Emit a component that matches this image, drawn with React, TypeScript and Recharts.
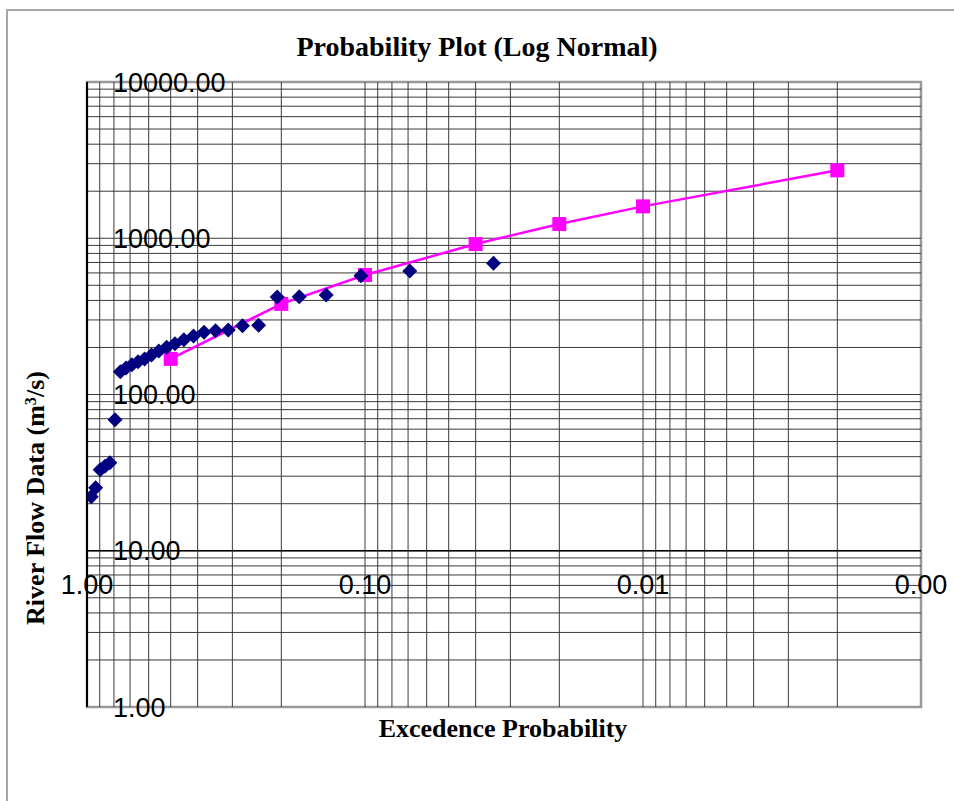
import {
  ReferenceArea,
  ReferenceDot,
  ReferenceLine,
  Scatter,
  ScatterChart,
  XAxis,
  YAxis,
} from 'recharts'

// ranked observations: exceedance probability (m / (n + 1)) and river flow
const obsProb = [
  0.0345, 0.069, 0.1034, 0.1379, 0.1724, 0.2069, 0.2414, 0.2759, 0.3103, 0.3448,
  0.3793, 0.4138, 0.4483, 0.4828, 0.5172, 0.5517, 0.5862, 0.6207, 0.6552, 0.6897,
  0.7241, 0.7586, 0.7931, 0.8276, 0.8621, 0.8966, 0.931, 0.9655,
]
const obsFlow = [
  692, 618, 575, 434, 423, 420, 277, 275, 259, 256,
  250, 237, 224, 211, 201, 190, 179, 169, 162, 155,
  148, 140, 69, 36.6, 34.7, 33, 25.3, 22.2,
]

// fitted log-normal quantiles
const fitProb = [0.5, 0.2, 0.1, 0.04, 0.02, 0.01, 0.002]
const fitFlow = [169, 380, 582, 918, 1233, 1600, 2720]

const xGridTicks = [
  0.002, 0.003, 0.004, 0.005, 0.006, 0.007, 0.008, 0.009,
  0.01, 0.02, 0.03, 0.04, 0.05, 0.06, 0.07, 0.08, 0.09,
  0.1, 0.2, 0.3, 0.4, 0.5, 0.6, 0.7, 0.8, 0.9,
]
const yGridTicks = [
  2, 3, 4, 5, 6, 7, 8, 9,
  10, 20, 30, 40, 50, 60, 70, 80, 90,
  100, 200, 300, 400, 500, 600, 700, 800, 900,
  1000, 2000, 3000, 4000, 5000, 6000, 7000, 8000, 9000,
]
const xLabelTicks = [1, 0.1, 0.01, 0.001]
const yLabelTicks = [1, 10, 100, 1000, 10000]

const observed = obsProb.map((p, i) => ({ p, q: obsFlow[i] }))
const fitted = fitProb.map((p, i) => ({ p, q: fitFlow[i] }))

const margin = { top: 82, right: 33, bottom: 94, left: 87 }
const sans = '"Liberation Sans", Arial, sans-serif'
const serif = '"Liberation Serif", "Times New Roman", serif'
const gridColor = '#3a3a3a'

const Diamond = ({ cx, cy }: any) => (
  <polygon
    points={`${cx},${cy - 7.5} ${cx + 7.5},${cy} ${cx},${cy + 7.5} ${cx - 7.5},${cy}`}
    fill="#000080"
  />
)

const Square = ({ cx, cy }: any) => (
  <rect x={cx - 7} y={cy - 7} width={14} height={14} fill="#FF00FF" />
)

const tickLabel = (value: number, position: 'bottom' | 'right', offset: number) => ({
  value: value.toFixed(2),
  position,
  offset,
  fill: '#000',
  fontSize: 27,
  fontFamily: sans,
})

export default function App() {
  return (
    <div style={{ position: 'absolute', left: 0, top: 0, width: 954, height: 801, background: '#fff' }}>
      <div
        style={{
          position: 'absolute',
          left: 6,
          top: 9,
          width: 960,
          height: 800,
          borderTop: '2px solid #a8a8a8',
          borderLeft: '2px solid #a8a8a8',
        }}
      />
      <ScatterChart width={954} height={801} margin={margin}>
        <XAxis
          dataKey="p"
          type="number"
          scale="log"
          domain={[0.001, 1]}
          reversed
          hide
          allowDataOverflow
        />
        <YAxis
          dataKey="q"
          type="number"
          scale="log"
          domain={[1, 10000]}
          hide
          allowDataOverflow
        />

        {/* log grid */}
        {xGridTicks.map((p) => (
          <ReferenceLine key={`x${p}`} x={p} stroke={gridColor} strokeWidth={1} />
        ))}
        {yGridTicks.map((v) => (
          <ReferenceLine key={`y${v}`} y={v} stroke={gridColor} strokeWidth={1} />
        ))}

        {/* plot frame, y axis at p = 1 and x axis crossing at 10 */}
        <ReferenceArea
          x1={0.001}
          x2={1}
          y1={1}
          y2={10000}
          fill="none"
          fillOpacity={0}
          stroke="#999"
          strokeWidth={2.5}
          ifOverflow="visible"
        />
        <ReferenceLine x={1} stroke="#000" strokeWidth={2} ifOverflow="visible" />
        <ReferenceLine y={10} stroke="#000" strokeWidth={1.5} ifOverflow="visible" />

        {xLabelTicks.map((p) => (
          <ReferenceDot
            key={`xl${p}`}
            x={p}
            y={10}
            r={0}
            stroke="none"
            fill="none"
            ifOverflow="visible"
            label={tickLabel(p, 'bottom', 24)}
          />
        ))}
        {yLabelTicks.map((v) => (
          <ReferenceDot
            key={`yl${v}`}
            x={1}
            y={v}
            r={0}
            stroke="none"
            fill="none"
            ifOverflow="visible"
            label={tickLabel(v, 'right', 26)}
          />
        ))}

        <Scatter
          data={fitted}
          shape={<Square />}
          line={{ stroke: '#FF00FF', strokeWidth: 2.5 }}
          lineType="joint"
          isAnimationActive={false}
        />
        <Scatter data={observed} shape={<Diamond />} isAnimationActive={false} />
      </ScatterChart>
      <div
        style={{
          position: 'absolute',
          left: 0,
          top: 33,
          width: 954,
          textAlign: 'center',
          fontFamily: serif,
          fontWeight: 'bold',
          fontSize: 28,
          lineHeight: '28px',
        }}
      >
        Probability Plot (Log Normal)
      </div>
      <div
        style={{
          position: 'absolute',
          left: 303,
          top: 716,
          width: 400,
          textAlign: 'center',
          fontFamily: serif,
          fontWeight: 'bold',
          fontSize: 26,
          lineHeight: '26px',
        }}
      >
        Excedence Probability
      </div>
      <div
        style={{
          position: 'absolute',
          left: 37,
          top: 498,
          transform: 'translate(-50%, -50%) rotate(-90deg)',
          whiteSpace: 'nowrap',
          fontFamily: serif,
          fontWeight: 'bold',
          fontSize: 26,
          lineHeight: '26px',
        }}
      >
        River Flow Data (m
        <span style={{ fontSize: '0.62em', position: 'relative', top: '-0.5em' }}>3</span>
        /s)
      </div>
    </div>
  )
}
